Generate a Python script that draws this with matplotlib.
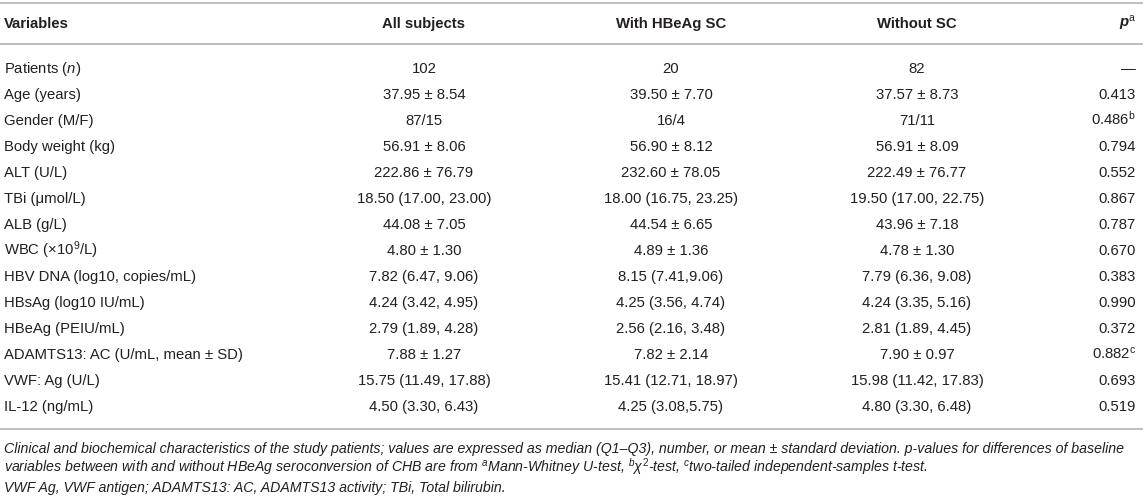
import matplotlib
matplotlib.use("Agg")
import matplotlib.pyplot as plt

plt.rcParams['font.family'] = ['Liberation Sans', 'DejaVu Sans']
plt.rcParams['mathtext.fontset'] = 'custom'
plt.rcParams['mathtext.rm'] = 'Liberation Sans'
plt.rcParams['mathtext.it'] = 'Liberation Sans:italic'
plt.rcParams['mathtext.bf'] = 'Liberation Sans:bold'
plt.rcParams['mathtext.bfit'] = 'Liberation Sans:bold:italic'
plt.rcParams['mathtext.sf'] = 'Liberation Sans'

headers = ["Variables", "All subjects", "With HBeAg SC", "Without SC", r"$\mathbfit{p}^{\mathrm{a}}$"]

variables = ["Patients ($n$)", "Age (years)", "Gender (M/F)", "Body weight (kg)", "ALT (U/L)",
             "TBi (μmol/L)", "ALB (g/L)", "WBC (×10$^{9}$/L)", "HBV DNA (log10, copies/mL)",
             "HBsAg (log10 IU/mL)", "HBeAg (PEIU/mL)", "ADAMTS13: AC (U/mL, mean ± SD)",
             "VWF: Ag (U/L)", "IL-12 (ng/mL)"]

all_subjects = ["102", "37.95 ± 8.54", "87/15", "56.91 ± 8.06", "222.86 ± 76.79",
                "18.50 (17.00, 23.00)", "44.08 ± 7.05", "4.80 ± 1.30", "7.82 (6.47, 9.06)",
                "4.24 (3.42, 4.95)", "2.79 (1.89, 4.28)", "7.88 ± 1.27", "15.75 (11.49, 17.88)",
                "4.50 (3.30, 6.43)"]

with_sc = ["20", "39.50 ± 7.70", "16/4", "56.90 ± 8.12", "232.60 ± 78.05",
           "18.00 (16.75, 23.25)", "44.54 ± 6.65", "4.89 ± 1.36", "8.15 (7.41,9.06)",
           "4.25 (3.56, 4.74)", "2.56 (2.16, 3.48)", "7.82 ± 2.14", "15.41 (12.71, 18.97)",
           "4.25 (3.08,5.75)"]

without_sc = ["82", "37.57 ± 8.73", "71/11", "56.91 ± 8.09", "222.49 ± 76.77",
              "19.50 (17.00, 22.75)", "43.96 ± 7.18", "4.78 ± 1.30", "7.79 (6.36, 9.08)",
              "4.24 (3.35, 5.16)", "2.81 (1.89, 4.45)", "7.90 ± 0.97", "15.98 (11.42, 17.83)",
              "4.80 (3.30, 6.48)"]

p_values = ["—", "0.413", r"0.486$^{\mathrm{b}}$", "0.794", "0.552", "0.867", "0.787", "0.670",
            "0.383", "0.990", "0.372", r"0.882$^{\mathrm{c}}$", "0.693", "0.519"]

footnotes = [
    "Clinical and biochemical characteristics of the study patients; values are expressed as median (Q1–Q3), number, or mean ± standard deviation. p-values for differences of baseline",
    r"variables between with and without HBeAg seroconversion of CHB are from $^{a}$Mann-Whitney U-test, $^{b}\chi^{2}$-test, $^{c}$two-tailed independent-samples t-test.",
    "VWF Ag, VWF antigen; ADAMTS13: AC, ADAMTS13 activity; TBi, Total bilirubin.",
]

W, H = 1143, 498
fig = plt.figure(figsize=(W / 100, H / 100), dpi=100)
ax = fig.add_axes([0, 0, 1, 1])
ax.set_xlim(0, W)
ax.set_ylim(H, 0)
ax.axis('off')

TXT = '#231f20'
LINE = '#b3b3b3'
FS = 10.7
x_left, x_all, x_with, x_without, x_p = 4, 424, 671, 917, 1136
cols = [(x_left, 'left'), (x_all, 'center'), (x_with, 'center'), (x_without, 'center'), (x_p, 'right')]
off = 5  # baseline offset from row centre

for y in (3, 44, 429):
    ax.plot([0, W], [y, y], color=LINE, lw=1.2, solid_capstyle='butt')

y_head = 23
for (x, ha), h in zip(cols, headers):
    ax.text(x, y_head + off, h, ha=ha, va='baseline', fontsize=FS, fontweight='bold', color=TXT)

y0, dy = 68, 26.0
for i in range(len(variables)):
    y = y0 + i * dy + off
    vals = [variables[i], all_subjects[i], with_sc[i], without_sc[i], p_values[i]]
    for (x, ha), v in zip(cols, vals):
        ax.text(x, y, v, ha=ha, va='baseline', fontsize=FS, color=TXT)

for j, t in enumerate(footnotes):
    ax.text(x_left, 448 + j * 19.5 + 4.5, t, ha='left', va='baseline', fontsize=10.2,
            style='italic', color=TXT)

fig.savefig('out.png', dpi=100)
